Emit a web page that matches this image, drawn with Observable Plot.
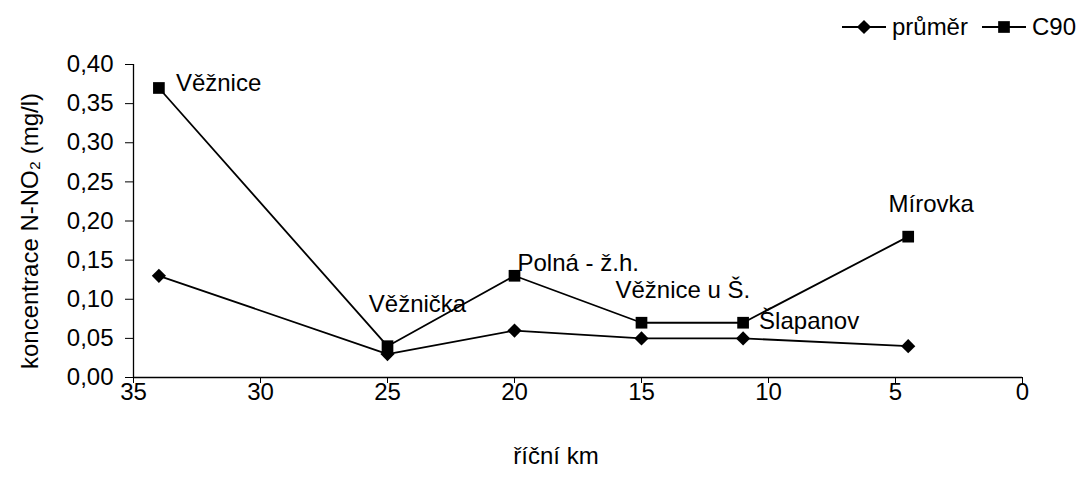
<!DOCTYPE html>
<html>
<head>
<meta charset="utf-8">
<script src="https://cdn.jsdelivr.net/npm/d3@7"></script>
<script src="https://cdn.jsdelivr.net/npm/@observablehq/plot@0.6"></script>
<style>
  html, body { margin: 0; padding: 0; background: #fff; }
  #wrap { position: relative; width: 1080px; height: 493px; font-family: "Liberation Sans", Arial, sans-serif; }
  #legend { position: absolute; top: 13px; right: 4px; display: flex; align-items: center; font-size: 24px; color: #000; }
  #legend .item { display: flex; align-items: center; margin-left: 14px; }
  #legend svg { margin-right: 6px; }
</style>
</head>
<body>
<div id="wrap"><div id="legend"></div></div>
<script>
const sites = ["Věžnice", "Věžnička", "Polná - ž.h.", "Věžnice u Š.", "Šlapanov", "Mírovka"];
const km = [34, 25, 20, 15, 11, 4.5];
const prumer = [0.13, 0.03, 0.06, 0.05, 0.05, 0.04];
const c90 = [0.37, 0.04, 0.13, 0.07, 0.07, 0.18];
const xTicks = [35, 30, 25, 20, 15, 10, 5, 0];
const yTicks = [0, 0.05, 0.10, 0.15, 0.20, 0.25, 0.30, 0.35, 0.40];
const seriesNames = ["průměr", "C90"];
// label placement relative to C90 point (style)
const labelDx = [17, 30, 3, -26, 16, 23];
const labelDy = [-5, -42, -12, -32, -1, -32];
const labelAnchor = ["start", "middle", "start", "start", "start", "middle"];

const rowsP = km.map((k, i) => ({km: k, v: prumer[i]}));
const rowsC = km.map((k, i) => ({km: k, v: c90[i], site: sites[i], i}));
const fmt = d => d3.format(".2f")(d).replace(".", ",");

const font = "Liberation Sans, Arial, sans-serif";
const FS = 24;
const labelMarks = rowsC.map(r => Plot.text([r], {
  x: "km", y: "v", text: "site", dx: labelDx[r.i], dy: labelDy[r.i],
  textAnchor: labelAnchor[r.i], fontSize: FS, fill: "black"
}));

const chart = Plot.plot({
  width: 1080,
  height: 493,
  marginLeft: 133,
  marginRight: 58,
  marginTop: 64,
  marginBottom: 116,
  style: {fontFamily: font, fontSize: FS + "px", color: "black", background: "white"},
  x: {domain: [35, 0], ticks: xTicks},
  y: {domain: [0, 0.4], ticks: yTicks},
  marks: [
    Plot.axisX({ticks: xTicks, tickSize: 6, tickPadding: -1, tickFormat: d => String(d), label: null, fontSize: FS, stroke: "black"}),
    Plot.axisY({ticks: yTicks, tickSize: 8, tickPadding: 12, tickFormat: fmt, label: null, fontSize: FS, stroke: "black"}),
    Plot.ruleY([0], {stroke: "black", strokeWidth: 1.3}),
    Plot.ruleX([35], {stroke: "black", strokeWidth: 1.3}),
    Plot.line(rowsP, {x: "km", y: "v", stroke: "black", strokeWidth: 1.8}),
    Plot.line(rowsC, {x: "km", y: "v", stroke: "black", strokeWidth: 1.8}),
    Plot.dot(rowsP, {x: "km", y: "v", symbol: "diamond2", r: 6.4, fill: "black", stroke: "none"}),
    Plot.dot(rowsC, {x: "km", y: "v", symbol: "square", r: 6.6, fill: "black", stroke: "none"}),
    ...labelMarks,
    Plot.text(["koncentrace N-NO₂ (mg/l)"], {frameAnchor: "left", textAnchor: "middle", rotate: -90, dx: -103, dy: 10, fontSize: FS, fill: "black"}),
    Plot.text(["říční km"], {frameAnchor: "bottom", dy: 86, dx: -22, fontSize: FS, fill: "black"})
  ]
});
document.getElementById("wrap").appendChild(chart);

// legend
const legend = d3.select("#legend");
const shapes = [d3.symbolDiamond2, d3.symbolSquare];
const sizes = [Math.PI * 6.4 * 6.4, Math.PI * 6.6 * 6.6];
seriesNames.forEach((name, i) => {
  const it = legend.append("div").attr("class", "item");
  const s = it.append("svg").attr("width", 44).attr("height", 18);
  s.append("line").attr("x1", 0).attr("x2", 44).attr("y1", 9).attr("y2", 9).attr("stroke", "black").attr("stroke-width", 1.8);
  s.append("path").attr("transform", "translate(22,9)").attr("d", d3.symbol(shapes[i], sizes[i])()).attr("fill", "black");
  it.append("span").text(name);
});
</script>
</body>
</html>
